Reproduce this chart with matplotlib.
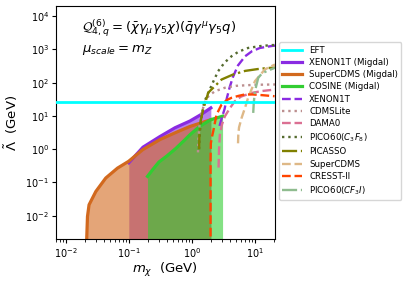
import matplotlib
matplotlib.use("Agg")
import matplotlib.pyplot as plt
from matplotlib.ticker import NullLocator

# EFT validity scale
eft_lambda = 25.7

# Migdal limits (filled regions)
xenon_migdal_m = [0.1, 0.168, 0.31, 0.54, 0.93, 1.4, 2.0]
xenon_migdal_l = [0.39, 1.15, 2.38, 4.4, 7.0, 11.0, 17.4]

scdms_migdal_m = [0.0212, 0.0221, 0.0234, 0.030, 0.0431, 0.0662, 0.099, 0.167, 0.31, 0.54, 0.93, 2.0]
scdms_migdal_l = [0.001, 0.0095, 0.0213, 0.0536, 0.136, 0.27, 0.43, 0.97, 1.93, 3.1, 4.8, 7.7]

cosine_migdal_m = [0.198, 0.238, 0.3, 0.4, 0.55, 0.75, 0.93, 1.34, 2.0, 3.07]
cosine_migdal_l = [0.152, 0.24, 0.41, 0.62, 1.03, 1.8, 2.7, 4.9, 7.7, 9.8]

# standard nuclear-recoil limits
xenon_m = [2.75, 3.0, 3.3, 3.6, 4.0, 4.5, 5.4, 7.0, 9.0, 12.0, 18.0, 21.0]
xenon_l = [5.0, 9.0, 16.0, 35.0, 75.0, 150.0, 330.0, 620.0, 880.0, 1100.0, 1250.0, 1300.0]

cdmslite_m = [1.25, 1.27, 1.32, 1.42, 1.6, 1.85, 2.32, 3.34, 5.0, 10.0, 21.0]
cdmslite_l = [0.8, 2.0, 5.0, 12.0, 25.0, 40.0, 55.0, 70.0, 80.0, 86.0, 88.0]

dama_m = [2.65, 2.7, 2.78, 3.0, 3.34, 4.0, 4.8, 6.0, 8.85, 13.0, 21.0]
dama_l = [0.28, 1.0, 2.7, 5.5, 9.7, 17.0, 27.5, 38.0, 49.0, 56.0, 62.0]

pico_c3f8_m = [1.3, 1.32, 1.36, 1.45, 1.57, 1.82, 2.2, 2.61, 3.3, 4.26, 5.5, 7.8, 12.0, 18.4, 21.0]
pico_c3f8_l = [1.0, 2.0, 5.0, 12.0, 26.0, 49.0, 110.0, 220.0, 400.0, 620.0, 850.0, 1100.0, 1250.0, 1340.0, 1350.0]

picasso_m = [1.3, 1.32, 1.38, 1.51, 1.82, 2.18, 2.96, 4.5, 7.0, 11.0, 16.0, 21.0]
picasso_l = [1.0, 3.0, 7.0, 15.5, 50.0, 70.0, 124.0, 175.0, 225.0, 255.0, 275.0, 280.0]

scdms_m = [5.4, 5.45, 5.6, 6.15, 7.0, 7.8, 10.0, 14.4, 20.8]
scdms_l = [1.5, 2.7, 4.5, 8.7, 18.0, 35.0, 110.0, 250.0, 350.0]

cresst_m = [1.98, 1.98, 2.0, 2.1, 2.18, 2.46, 2.96, 3.6, 4.26, 5.5, 6.9, 9.3, 13.0, 20.5]
cresst_l = [0.001, 0.5, 1.5, 2.5, 3.4, 10.9, 22.0, 30.0, 35.0, 40.0, 44.0, 44.0, 42.0, 39.0]

pico_cf3i_m = [9.4, 9.6, 10.0, 11.3, 13.0, 15.3, 20.8]
pico_cf3i_l = [12.3, 25.0, 55.0, 140.0, 190.0, 220.0, 280.0]

ymin, ymax = 2e-3, 2e4
floor = 1e-3

fig = plt.figure(figsize=(4.07, 2.81), dpi=100)
ax = fig.add_axes([0.1376, 0.1495, 0.537, 0.829])

ax.axhline(eft_lambda, color="cyan", lw=2, label="EFT", zorder=5)

# Migdal regions: purple first, orange over it, green on top
ax.fill_between(xenon_migdal_m, floor, xenon_migdal_l, color="blueviolet", alpha=0.6, lw=0)
ax.plot(xenon_migdal_m, xenon_migdal_l, color="blueviolet", lw=2.3, label="XENON1T (Migdal)")
ax.fill_between(scdms_migdal_m, floor, scdms_migdal_l, color="chocolate", alpha=0.6, lw=0)
ax.plot(scdms_migdal_m, scdms_migdal_l, color="chocolate", lw=2.3, label="SuperCDMS (Migdal)")
ax.fill_between(cosine_migdal_m, floor, cosine_migdal_l, color="limegreen", alpha=0.6, lw=0)
ax.plot(cosine_migdal_m, cosine_migdal_l, color="limegreen", lw=2.3, label="COSINE (Migdal)")

ax.plot(xenon_m, xenon_l, color="blueviolet", ls="--", lw=1.7, label="XENON1T")
ax.plot(cdmslite_m, cdmslite_l, color="rosybrown", ls=":", lw=1.7, label="CDMSLite")
ax.plot(dama_m, dama_l, color="palevioletred", ls="--", lw=1.7, label="DAMA0")
ax.plot(pico_c3f8_m, pico_c3f8_l, color="darkolivegreen", ls=":", lw=1.7, label=r"PICO60($C_3F_8$)")
ax.plot(picasso_m, picasso_l, color="olive", ls="-.", lw=1.7, label="PICASSO")
ax.plot(scdms_m, scdms_l, color="burlywood", ls="--", lw=1.7, label="SuperCDMS")
ax.plot(cresst_m, cresst_l, color="orangered", ls="--", lw=1.7, label="CRESST-II")
ax.plot(pico_cf3i_m, pico_cf3i_l, color="darkseagreen", ls="-.", lw=1.7, label=r"PICO60($CF_3I$)")

ax.set_xscale("log")
ax.set_yscale("log")
ax.set_xlim(0.007, 20.5)
ax.set_ylim(ymin, ymax)
ax.yaxis.set_minor_locator(NullLocator())
ax.tick_params(labelsize=7, pad=2, length=3)
ax.tick_params(which="minor", length=1.8)

ax.set_xlabel(r"$m_\chi$  (GeV)", fontsize=9.5, labelpad=1)
ax.set_ylabel(r"$\tilde{\Lambda}$  (GeV)", fontsize=9.5, labelpad=4)

ax.text(0.12, 0.905,
        r"$\mathcal{Q}_{4,q}^{(6)}=(\bar{\chi}\gamma_{\mu}\gamma_5\chi)(\bar{q}\gamma^{\mu}\gamma_5 q)$",
        transform=ax.transAxes, fontsize=9.5, va="center")
ax.text(0.12, 0.81, r"$\mu_{scale}=m_Z$", transform=ax.transAxes, fontsize=9.5, va="center")

ax.legend(loc="upper left", bbox_to_anchor=(1.02, 0.845), borderaxespad=0,
          fontsize=6.2, handlelength=2.3, labelspacing=0.38)

fig.savefig("out.png", dpi=100)
